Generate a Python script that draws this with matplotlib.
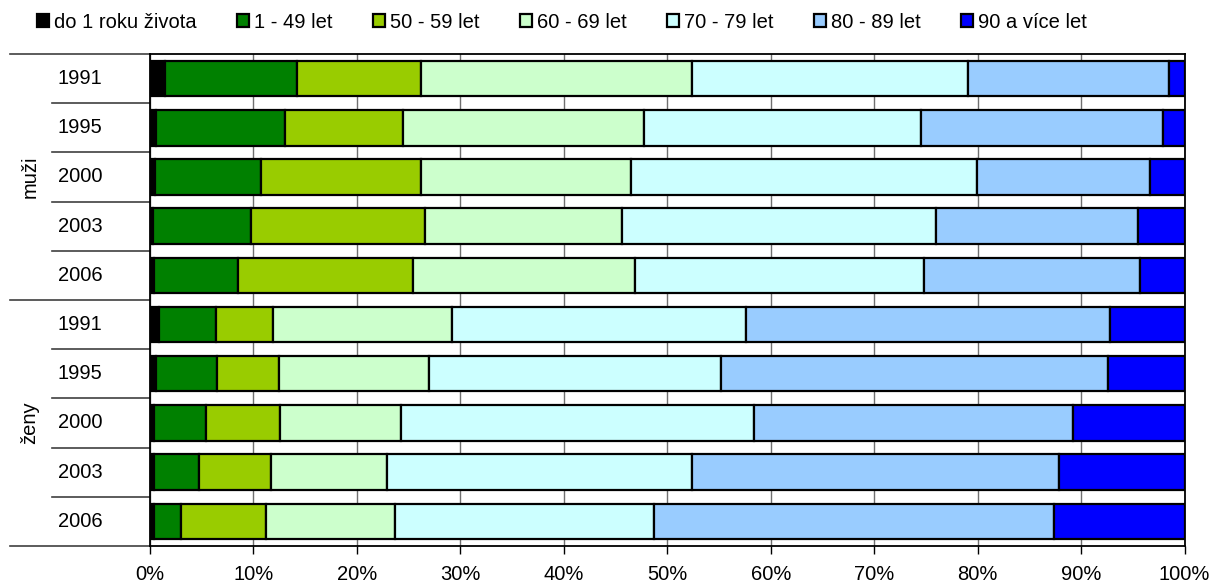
import numpy as np
import matplotlib
matplotlib.use("Agg")
from matplotlib import pyplot as plt

plt.rcParams['font.family'] = ['Liberation Sans', 'DejaVu Sans']

groups = ['muži', 'ženy']
years = ['1991', '1995', '2000', '2003', '2006']
age_labels = ['do 1 roku života', '1 - 49 let', '50 - 59 let', '60 - 69 let',
              '70 - 79 let', '80 - 89 let', '90 a více let']
colors = ['#000000', '#008000', '#99CC00', '#CCFFCC', '#CCFFFF', '#99CCFF', '#0000FF']

# shares in % per age group (rows: muži 1991..2006, ženy 1991..2006)
do1 = [1.5, 0.6, 0.5, 0.3, 0.4, 0.9, 0.6, 0.4, 0.4, 0.4]
a1_49 = [12.7, 12.5, 10.2, 9.5, 8.1, 5.5, 5.9, 5.0, 4.4, 2.6]
a50_59 = [12.0, 11.4, 15.5, 16.8, 16.9, 5.5, 6.0, 7.2, 6.9, 8.2]
a60_69 = [26.2, 23.3, 20.3, 19.0, 21.5, 17.3, 14.5, 11.7, 11.2, 12.5]
a70_79 = [26.7, 26.7, 33.4, 30.4, 27.9, 28.4, 28.2, 34.1, 29.5, 25.0]
a80_89 = [19.4, 23.4, 16.8, 19.5, 20.9, 35.2, 37.4, 30.8, 35.5, 38.7]
a90 = [1.5, 2.1, 3.3, 4.5, 4.3, 7.2, 7.4, 10.8, 12.1, 12.6]

series = [do1, a1_49, a50_59, a60_69, a70_79, a80_89, a90]

fig = plt.figure(figsize=(12.14, 5.85), dpi=100)
ax = fig.add_axes([0.1234, 0.0667, 0.8524, 0.841])

n = len(groups) * len(years)
y = np.arange(n)
left = np.zeros(n)
for vals, lab, col in zip(series, age_labels, colors):
    vals = np.array(vals, dtype=float)
    ax.barh(y, vals, left=left, height=0.72, color=col, edgecolor='black',
            linewidth=1.6, label=lab, zorder=3)
    left += vals

ax.set_xlim(0, 100)
ax.set_ylim(n - 0.5, -0.5)
ax.set_xticks(np.arange(0, 101, 10))
ax.set_xticklabels([f'{v}%' for v in range(0, 101, 10)], fontsize=14.5)
ax.tick_params(axis='x', direction='out', length=6, width=1, pad=8, color='black')
ax.set_yticks([])
ax.xaxis.grid(True, color='#707070', linewidth=1, zorder=0)
for s in ax.spines.values():
    s.set_color('black')
    s.set_linewidth(1.3)

# multi-level category axis
tr = ax.get_yaxis_transform()
for i in range(n + 1):
    yy = i - 0.5
    x0 = -0.1351 if i % len(years) == 0 else -0.0945
    ax.plot([x0, 0], [yy, yy], color='#404040', lw=1.2, transform=tr, clip_on=False)
for i in range(n):
    ax.text(-0.0675, i, years[i % len(years)], transform=tr, ha='center', va='center',
            fontsize=14.5)
for g, name in enumerate(groups):
    ax.text(-0.116, g * len(years) + 2, name, transform=tr, ha='center', va='center',
            rotation=90, fontsize=14.5)

fig.legend(loc='center', bbox_to_anchor=(0.463, 0.962), ncol=7, frameon=False,
           fontsize=14.5, handlelength=0.6, handleheight=0.6, handletextpad=0.25,
           columnspacing=2.0, borderaxespad=0)

plt.savefig('out.png', dpi=100)
